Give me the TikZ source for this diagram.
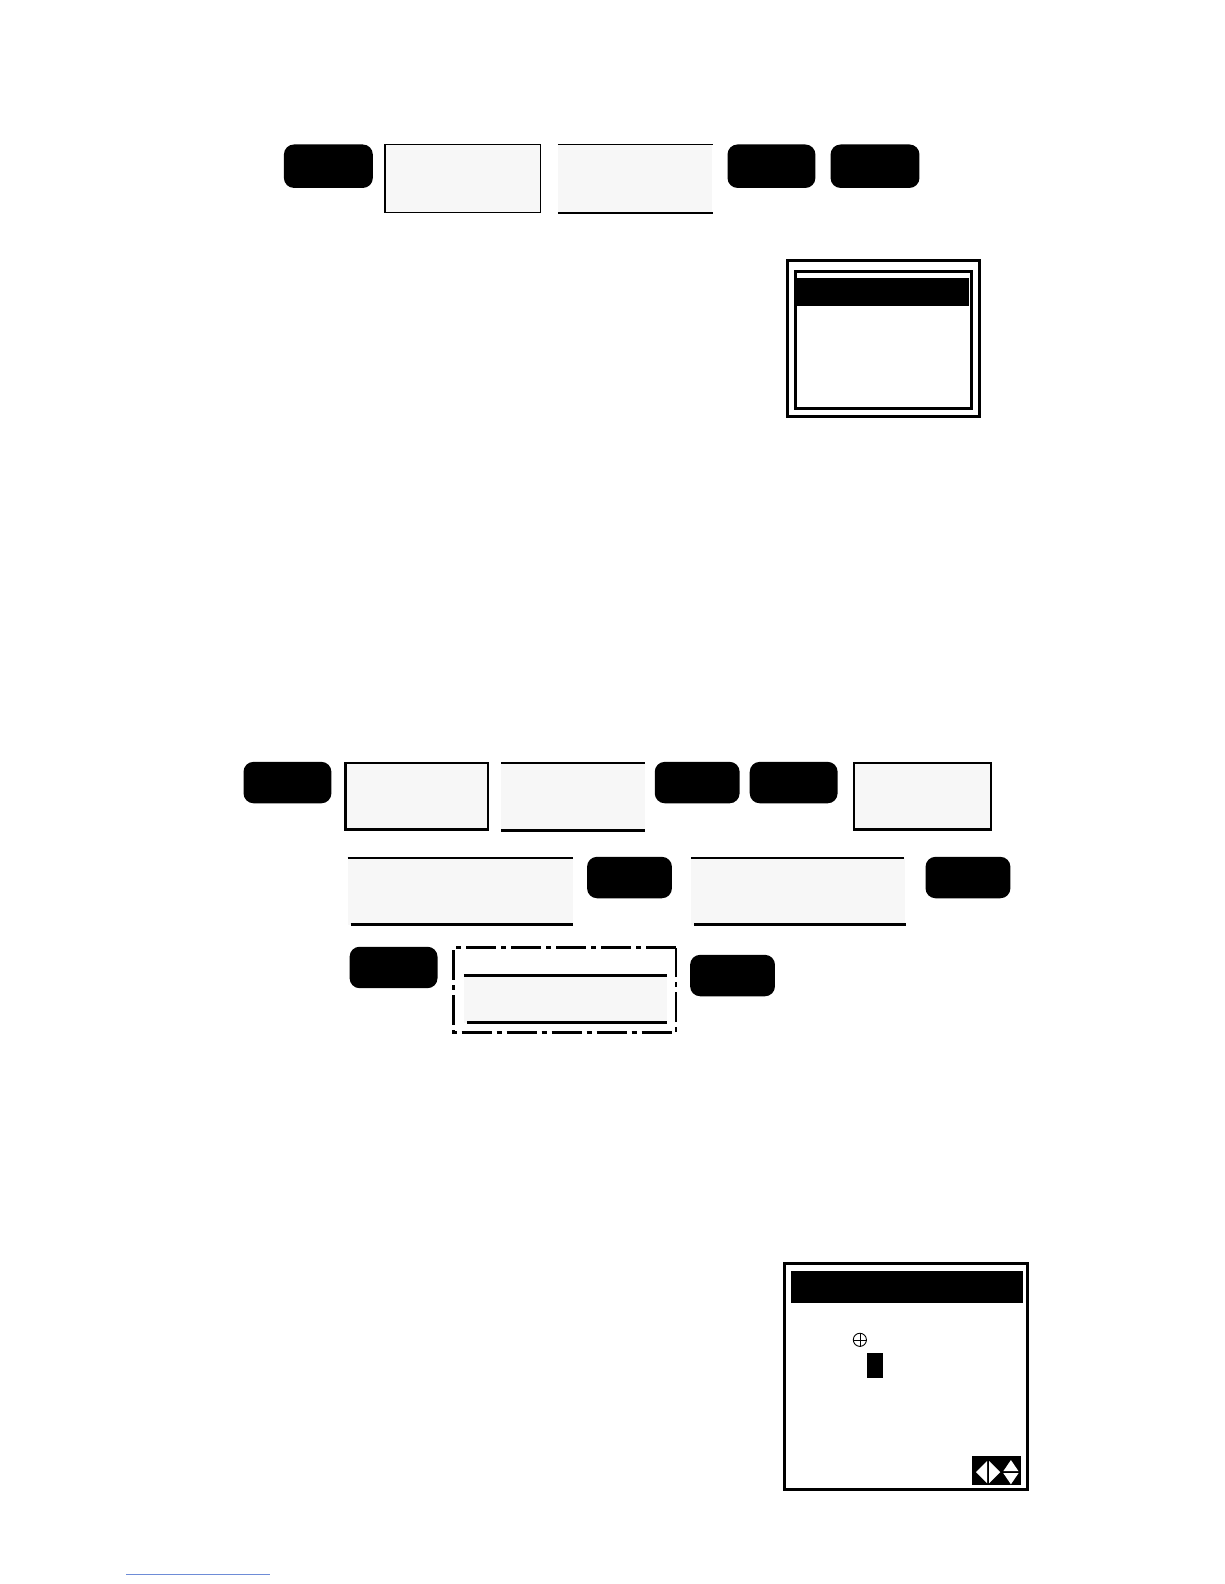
\documentclass[tikz,border=0pt]{standalone}
\usepackage{tikz}
\definecolor{boxgray}{HTML}{F7F7F7}
\definecolor{linkblue}{RGB}{110,140,215}
\tikzset{
  key/.style={fill=black, rounded corners=10pt, inner sep=0pt, outer sep=0pt, anchor=north west},
  panel/.style={fill=boxgray, inner sep=0pt, outer sep=0pt, anchor=north west},
  framed/.style={panel, draw=black},
  rule/.style={line width=2.6pt, line cap=butt},
  screenframe/.style={draw=black, line width=3pt, inner sep=0pt, outer sep=0pt, anchor=north west},
  band/.style={fill=black, inner sep=0pt, outer sep=0pt, anchor=north west},
  dashdotbox/.style={draw=black, line width=2.6pt, dash pattern=on 30pt off 5pt on 5pt off 5pt, inner sep=0pt, outer sep=0pt, anchor=north west},
}
\begin{document}
\begin{tikzpicture}[x=1pt,y=-1pt]
\useasboundingbox (0,0) rectangle (1224,1584);
\fill[white] (0,0) rectangle (1224,1584);
\begin{scope}[scale=1.0104, transform shape]
% ---------- row 1 ----------
\node[key, minimum width=88pt, minimum height=43pt] (ka) at (281,143) {};
\node[framed, line width=1.3pt, minimum width=154pt, minimum height=67pt] (ba) at (381,143) {};
\node[panel, minimum width=153pt, minimum height=68pt] (bb) at (552,143) {};
\draw[line width=1.6pt] (bb.north west) -- (bb.north east);
\draw[line width=1.6pt] (bb.south west) -- (bb.south east);
\node[key, minimum width=87pt, minimum height=43pt] (kb) at (720,143) {};
\node[key, minimum width=88pt, minimum height=43pt] (kc) at (822,143) {};

% ---------- screen 1 ----------
\node[screenframe, minimum width=190pt, minimum height=154pt] (s1out) at (779,258) {};
\node[screenframe, minimum width=174pt, minimum height=135pt] (s1in) at (787,269) {};
\node[band, minimum width=170pt, minimum height=28pt] (s1band) at (789,275) {};

% ---------- row 2 ----------
\node[key, minimum width=87pt, minimum height=41pt] (kd) at (241,754) {};
\node[framed, line width=2.2pt, minimum width=141pt, minimum height=66pt] (bc) at (342,755) {};
\node[panel, minimum width=142pt, minimum height=67pt] (bd) at (496,755) {};
\draw[rule] (bd.north west) -- (bd.north east);
\draw[rule] (bd.south west) -- (bd.south east);
\node[key, minimum width=84pt, minimum height=41pt] (ke) at (648,754) {};
\node[key, minimum width=87pt, minimum height=41pt] (kf) at (742,754) {};
\node[framed, line width=2.2pt, minimum width=136pt, minimum height=66pt] (be) at (845,755) {};

% ---------- row 3 ----------
\node[panel, minimum width=223pt, minimum height=66pt] (bf) at (344,849) {};
\draw[rule] (bf.north west) -- (bf.north east);
\draw[rule] ([xshift=3pt]bf.south west) -- (bf.south east);
\node[key, minimum width=84pt, minimum height=41pt] (kg) at (581,848) {};
\node[panel, minimum width=212pt, minimum height=66pt] (bg) at (684,849) {};
\draw[rule] (bg.north west) -- ([xshift=-2pt]bg.north east);
\draw[rule] ([xshift=3pt]bg.south west) -- (bg.south east);
\node[key, minimum width=84pt, minimum height=41pt] (kh) at (916,848) {};

% ---------- row 4 ----------
\node[key, minimum width=87pt, minimum height=41pt] (ki) at (346,937) {};
\node[dashdotbox, minimum width=220pt, minimum height=84pt] (dd) at (449,938) {};
\node[panel, minimum width=201pt, minimum height=47pt] (bh) at (459,965) {};
\draw[rule] (bh.north west) -- (bh.north east);
\draw[rule] ([xshift=3pt]bh.south west) -- (bh.south east);
\node[key, minimum width=84pt, minimum height=41pt] (kj) at (683,945) {};

% ---------- screen 2 ----------
\node[screenframe, minimum width=241pt, minimum height=224pt] (s2out) at (776,1250) {};
\node[band, minimum width=229pt, minimum height=32pt] (s2band) at (783,1258) {};
\node[circle, draw=black, line width=0.9pt, minimum size=13pt, inner sep=0pt] (cross) at (851,1326) {};
\draw[line width=0.9pt] (cross.north) -- (cross.south);
\draw[line width=0.9pt] (cross.west) -- (cross.east);
\node[band, minimum width=16pt, minimum height=25pt] (cursor) at (858,1339) {};
\node[band, minimum width=48pt, minimum height=29pt] (arrows) at (962,1441) {};
% left/right arrows
\fill[white] (966,1457) -- (977,1446) -- (977,1468) -- cycle;
\fill[white] (990,1457) -- (979,1446) -- (979,1468) -- cycle;
% up/down arrows
\fill[white] (1000.5,1445) -- (1008,1456) -- (993,1456) -- cycle;
\fill[white] (1000.5,1469) -- (1008,1458) -- (993,1458) -- cycle;

% ---------- footnote rule ----------
\coordinate (fnA) at (125,1558);
\coordinate (fnB) at (267,1558);
\draw[linkblue, line width=1pt] (fnA) -- (fnB);
\end{scope}
\end{tikzpicture}
\end{document}
